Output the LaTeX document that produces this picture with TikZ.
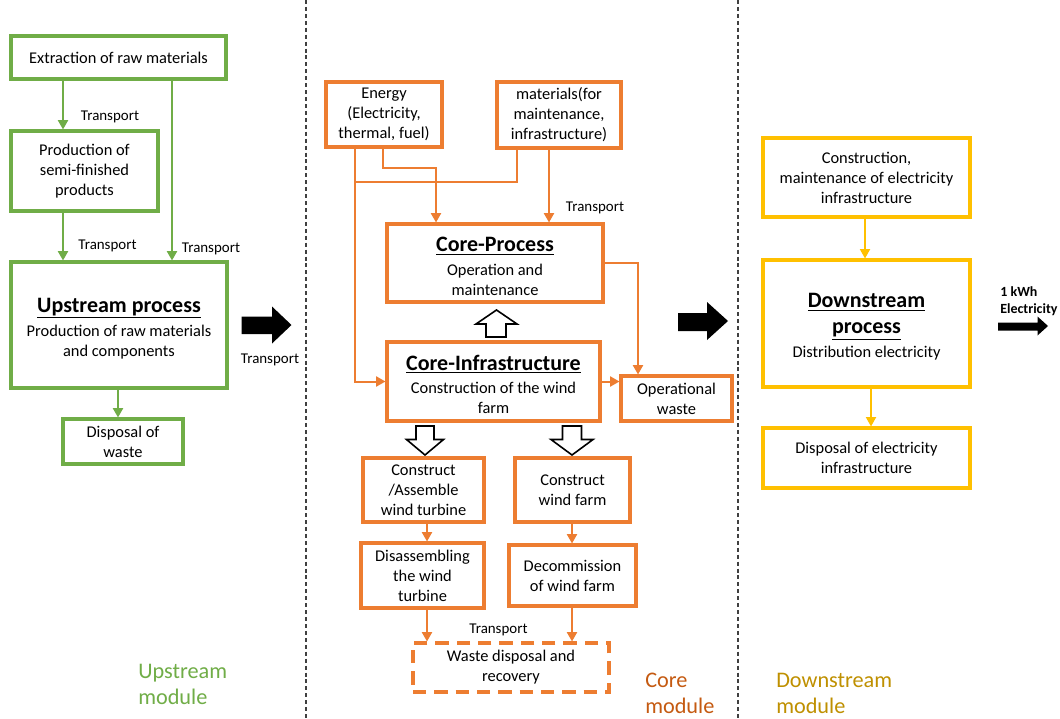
\documentclass[tikz,border=0pt]{standalone}
\usepackage{fontspec}
\setmainfont{Carlito}
\usetikzlibrary{calc,arrows.meta}
\definecolor{cgreen}{HTML}{70AD47}
\definecolor{corange}{HTML}{ED7D31}
\definecolor{cgold}{HTML}{FFC000}
\definecolor{cmodcore}{HTML}{C55A11}
\definecolor{cmoddown}{HTML}{BF9000}
\definecolor{cdiv}{HTML}{404040}
\newcommand\fbody{\fontsize{12.3}{15}\selectfont}
\newcommand\ftitle{\fontsize{16.5}{19.5}\selectfont\bfseries}
\newcommand\fsmall{\fontsize{11.2}{13}\selectfont}
\newcommand\fmod{\fontsize{16.7}{19.5}\selectfont}
\newcommand\tstrut{\rule{0pt}{16pt}}
\begin{document}
\begin{tikzpicture}[x=0.75pt,y=-0.75pt,
  boxbase/.style={line width=2.3pt, fill=white, inner sep=0pt, align=center, font=\fbody},
  sz/.style 2 args={minimum width={#1*0.75pt}, minimum height={#2*0.75pt}},
  gbox/.style={boxbase, draw=cgreen},
  obox/.style={boxbase, draw=corange},
  ybox/.style={boxbase, draw=cgold},
  tip/.style={-{Triangle[width=7.5pt,length=7pt]}},
  garr/.style={tip, draw=cgreen, line width=1.5pt},
  oline/.style={draw=corange, line width=1.5pt},
  oarr/.style={tip, oline},
  yarr/.style={tip, draw=cgold, line width=1.3pt},
  lbl/.style={font=\fsmall, inner sep=0pt},
  modlbl/.style={font=\fmod, align=left, anchor=west, inner sep=0pt},
  divider/.style={draw=cdiv, line width=1.1pt, dash pattern=on 3pt off 2.2pt},
  hollow/.style={draw=black, line width=1.2pt, fill=white, line join=miter}
]
\useasboundingbox (0,0) rectangle (1060,718);
\fill[white] (0,0) rectangle (1060,718);

% dividers
\coordinate (d1t) at (306,0); \coordinate (d1b) at (306,718);
\coordinate (d2t) at (738,0); \coordinate (d2b) at (738,718);
\draw[divider] (d1t) -- (d1b);
\draw[divider] (d2t) -- (d2b);

% ---------- Upstream module ----------
\node[gbox, sz={215}{43}] (extr) at (118.5,57.5) {Extraction of raw materials};
\node[gbox, sz={147}{80}] (semi) at (84.5,171) {Production of\\semi-finished\\products};
\node[gbox, sz={216}{126}] (up) at (119,325) {{\ftitle\tstrut\underline{Upstream process}}\\[3.2pt]Production of raw materials\\and components};
\node[gbox, sz={120}{45}] (updisp) at (123,441.5) {Disposal of\\waste};

\coordinate (xa) at (63,0);
\coordinate (xb) at (172,0);
\coordinate (xc) at (118,0);
\draw[garr] (extr.south -| xa) -- (semi.north -| xa);
\draw[garr] (semi.south -| xa) -- (up.north -| xa);
\draw[garr] (extr.south -| xb) -- (up.north -| xb);
\draw[garr] (up.south -| xc) -- (updisp.north -| xc);

\node[lbl] (t1) at (110,117) {Transport};
\node[lbl] (t2) at (107.5,246) {Transport};
\node[lbl] (t3) at (211,249) {Transport};

% big arrow upstream -> core
\fill[black] (241.5,316.5) -- (272,316.5) -- (272,306.5) -- (291.5,325) -- (272,343.5) -- (272,334) -- (241.5,334) -- cycle;
\node[lbl] (t4) at (270,360) {Transport};

\node[modlbl, text=cgreen] (mup) at (138,684) {Upstream\\module};

% ---------- Core module ----------
\node[obox, sz={116}{65}] (energy) at (384,114.5) {Energy\\(Electricity,\\thermal, fuel)};
\node[obox, sz={124}{66}] (mat) at (559,115) {materials(for\\maintenance,\\infrastructure)};
\node[obox, sz={216}{78}] (cproc) at (495,263) {{\ftitle\tstrut\underline{Core-Process}}\\[2.5pt]Operation and\\maintenance};
\node[obox, sz={213}{79}] (cinf) at (493.5,381.5) {{\ftitle\tstrut\underline{Core-Infrastructure}}\\[2.5pt]Construction of the wind\\farm};
\node[obox, sz={111}{45}] (opw) at (676.5,398.5) {Operational\\waste};
\node[obox, sz={121}{64}] (cab) at (423.5,490) {Construct\\/Assemble\\wind turbine};
\node[obox, sz={115}{64}] (cwf) at (572.5,490) {Construct\\wind farm};
\node[obox, sz={123}{65}] (dis) at (422.5,575.5) {Disassembling\\the wind\\turbine};
\node[obox, sz={127}{61}] (dec) at (572.5,575.5) {Decommission\\of wind farm};
\node[obox, dash pattern=on 10pt off 6pt, sz={196}{49}] (waste) at (511,667.5) {Waste disposal and\\recovery};

\coordinate (xe1) at (355,0);
\coordinate (xe2) at (383,0);
\coordinate (k1) at (436,168);
\coordinate (j1) at (355,182);
\coordinate (xm) at (517,0);
\coordinate (xm2) at (549,0);
\coordinate (xo) at (638,0);
\draw[oarr] (energy.south -| xe1) |- (cinf.west);
\draw[oarr] (energy.south -| xe2) |- (k1) -- (cproc.north -| k1);
\draw[oline] (mat.south -| xm) |- (j1);
\draw[oarr] (mat.south -| xm2) -- (cproc.north -| xm2);
\draw[oarr] (cproc.east) -| (opw.north -| xo);
\draw[oarr] (cinf.east) -- (opw.west |- cinf.east);
\node[lbl] (t5) at (595,208) {Transport};

% hollow arrows
\draw[hollow] (496.5,310) -- (517,324) -- (506,324) -- (506,337) -- (486,337) -- (486,324) -- (476,324) -- cycle;
\draw[hollow] (416,426) -- (434,426) -- (434,439.5) -- (443.5,439.5) -- (425,455) -- (406.5,439.5) -- (416,439.5) -- cycle;
\draw[hollow] (562.5,426) -- (581.5,426) -- (581.5,439.5) -- (593,439.5) -- (572,455) -- (551,439.5) -- (562.5,439.5) -- cycle;

\coordinate (xl) at (427,0);
\coordinate (xr) at (572,0);
\draw[oarr] (cab.south -| xl) -- (dis.north -| xl);
\draw[oarr] (cwf.south -| xr) -- (dec.north -| xr);
\draw[oarr] (dis.south -| xl) -- (waste.north -| xl);
\draw[oarr] (dec.south -| xr) -- (waste.north -| xr);
\node[lbl] (t6) at (498.5,630) {Transport};

% big arrow core -> downstream
\fill[black] (678,313) -- (707,313) -- (707,302) -- (728,321) -- (707,340) -- (707,331) -- (678,331) -- cycle;

\node[modlbl, text=cmodcore] (mcore) at (645,693) {Core\\module};

% ---------- Downstream module ----------
\node[ybox, sz={207}{79}] (dcon) at (866.5,177.5) {Construction,\\maintenance of electricity\\infrastructure};
\node[ybox, sz={207}{127}] (down) at (866.5,323.5) {{\ftitle\tstrut\underline{Downstream}}\\[4.5pt]{\ftitle\underline{process}}\\[3pt]Distribution electricity};
\node[ybox, sz={207}{60}] (ddisp) at (866.5,458) {Disposal of electricity\\infrastructure};
\coordinate (xr1) at (865,0);
\coordinate (xr2) at (871,0);
\draw[yarr] (dcon.south -| xr1) -- (down.north -| xr1);
\draw[yarr] (down.south -| xr2) -- (ddisp.north -| xr2);

\fill[black] (998,322.5) -- (1037.5,322.5) -- (1037.5,316.5) -- (1048,326) -- (1037.5,335.5) -- (1037.5,330.5) -- (998,330.5) -- cycle;
\node[font=\fontsize{10.5}{12.5}\selectfont\bfseries, align=left, anchor=west, inner sep=0pt] (kwh) at (1000,301) {1 kWh\\Electricity};

\node[modlbl, text=cmoddown] (mdown) at (776,693) {Downstream\\module};
\end{tikzpicture}
\end{document}
